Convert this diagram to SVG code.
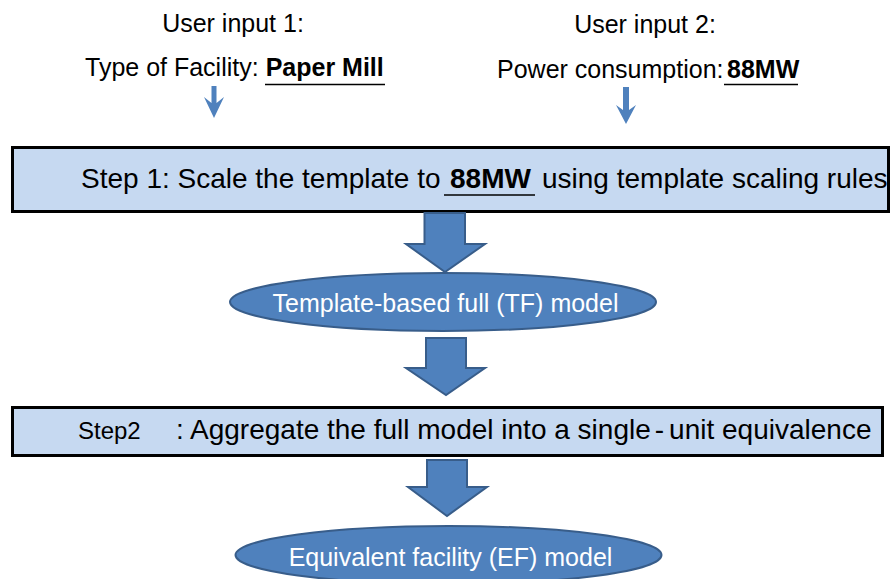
<svg xmlns="http://www.w3.org/2000/svg" width="891" height="579" viewBox="0 0 891 579">
<style>
text{font-family:"Liberation Sans",Arial,sans-serif;fill:#000}
.t25{font-size:25px}
.t28{font-size:28px}
.b{font-weight:bold}
.w{fill:#fff}
.box{fill:#C6D9F1;stroke:#000;stroke-width:3}
.ell{fill:#4F81BD;stroke:#385D8A;stroke-width:2}
.big{fill:#4F81BD;stroke:#385D8A;stroke-width:2;stroke-linejoin:miter}
.small{fill:#4F81BD}
.ul{stroke:#000;stroke-width:1.6}
</style>
<rect width="891" height="579" fill="#fff"/>
<g id="input1">
<text class="t25" x="233" y="32" text-anchor="middle">User input 1:</text>
<text class="t25" x="85" y="76">Type of Facility: <tspan class="b">Paper Mill</tspan></text>
<line class="ul" x1="265" y1="84.5" x2="385" y2="84.5"/>
</g>
<g id="input2">
<text class="t25" x="645" y="33" text-anchor="middle">User input 2:</text>
<text class="t25" x="497" y="77.5">Power consumption:<tspan class="b" x="727">88MW</tspan></text>
<line class="ul" x1="724" y1="84.5" x2="798" y2="84.5"/>
</g>
<g id="step1">
<rect class="box" x="12.5" y="147.5" width="876" height="64"/>
<text class="t28" x="81" y="188">Step 1: Scale the template to <tspan class="b" x="450">88MW</tspan><tspan x="542">using template scaling rules</tspan></text>
<line class="ul" x1="444" y1="195" x2="535" y2="195"/>
</g>
<g id="tf">
<ellipse class="ell" cx="443" cy="302" rx="213" ry="29"/>
<text class="t25 w" x="445.5" y="312" text-anchor="middle">Template-based full (TF) model</text>
</g>
<g id="step2">
<rect class="box" x="12.5" y="407.5" width="870" height="48"/>
<text x="78" y="439" style="font-size:24px">Step2</text>
<text class="t28" x="176" y="439">: Aggregate the full model into a single<tspan dx="4">-</tspan><tspan dx="5">unit equivalence</tspan></text>
</g>
<g id="ef">
<ellipse class="ell" cx="448.5" cy="555" rx="213" ry="29"/>
<text class="t25 w" x="450.5" y="566" text-anchor="middle">Equivalent facility (EF) model</text>
</g>
<g id="connectors">
<polygon class="small" points="211.5,86 216.5,86 216.5,103 224,97 214,118 204,97 211.5,103"/>
<polygon class="small" points="623,87 629,87 629,110 636,105 626,124 616,105 623,110"/>
<polygon class="big" points="424.5,213 465,213 465,244 485,244 445,272 406,244 424.5,244"/>
<polygon class="big" points="426,338 466,338 466,368 485,368 446,395 406,368 426,368"/>
<polygon class="big" points="427,460 467,460 467,487 487,487 447,516 408,487 427,487"/>
</g>
</svg>
